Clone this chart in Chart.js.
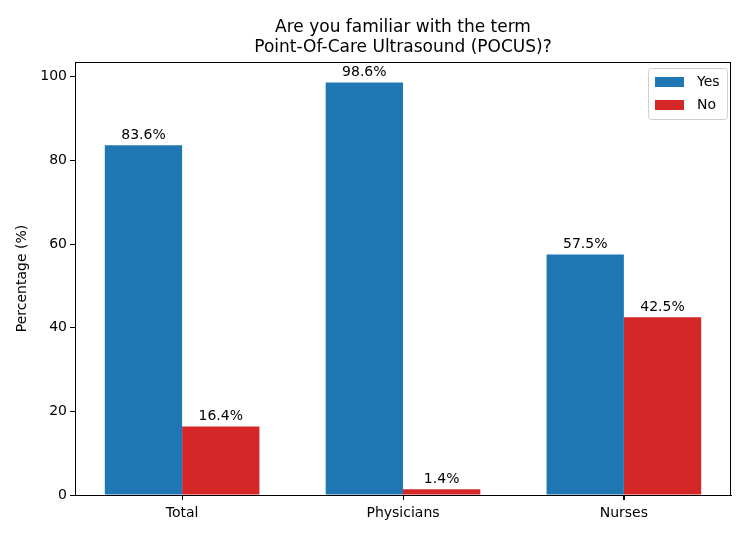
<!DOCTYPE html>
<html>
<head>
<meta charset="utf-8">
<script src="https://cdn.jsdelivr.net/npm/chart.js@4/dist/chart.umd.min.js"></script>
<style>
html,body{margin:0;padding:0;background:#fff;}
#wrap{width:750px;height:536px;}
</style>
</head>
<body>
<div id="wrap"><canvas id="c" width="750" height="536"></canvas></div>
<script>
const categories = ["Total", "Physicians", "Nurses"];
const yesValues = [83.6, 98.6, 57.5];
const noValues = [16.4, 1.4, 42.5];
const seriesNames = ["Yes", "No"];
const titleLines = ["Are you familiar with the term", "Point-Of-Care Ultrasound (POCUS)?"];
const yTicks = [0, 20, 40, 60, 80, 100];

const FONT = "DejaVu Sans";
const TICK_PX = 14;
const TITLE_PX = 17;
const BLUE = '#1f77b4', RED = '#d62728';

const framePlugin = {
  id: 'frame',
  afterDatasetsDraw(chart) {
    const {ctx, chartArea: a} = chart;
    ctx.save();
    ctx.font = TICK_PX + 'px "' + FONT + '"';
    ctx.fillStyle = '#000';
    ctx.textAlign = 'center';
    ctx.textBaseline = 'bottom';
    chart.data.datasets.forEach((ds, i) => {
      chart.getDatasetMeta(i).data.forEach((bar, j) => {
        ctx.fillText(ds.data[j].y.toFixed(1) + '%', bar.x, bar.y - 3);
      });
    });
    ctx.strokeStyle = '#000';
    ctx.lineWidth = 1;
    ctx.strokeRect(Math.round(a.left) + 0.5, Math.round(a.top) + 0.5, Math.round(a.right - a.left) - 1, Math.round(a.bottom - a.top));
    // x tick marks at category centres
    const xs = chart.scales.x;
    ctx.beginPath();
    categories.forEach((c, i) => {
      const px = Math.round(xs.getPixelForValue(i)) + 0.5;
      ctx.moveTo(px, Math.round(a.bottom));
      ctx.lineTo(px, Math.round(a.bottom) + 5);
    });
    ctx.stroke();
    ctx.font = TITLE_PX + 'px "' + FONT + '"';
    ctx.textBaseline = 'middle';
    const cx = (a.left + a.right) / 2;
    ctx.fillText(titleLines[0], cx, 28);
    ctx.fillText(titleLines[1], cx, 48);
    const lx = 648, ly = 68, lw = 79, lh = 51;
    ctx.fillStyle = 'rgba(255,255,255,0.8)';
    ctx.strokeStyle = '#d0d0d0';
    ctx.beginPath();
    if (ctx.roundRect) ctx.roundRect(lx + 0.5, ly + 0.5, lw, lh, 3); else ctx.rect(lx + 0.5, ly + 0.5, lw, lh);
    ctx.fill(); ctx.stroke();
    ctx.font = TICK_PX + 'px "' + FONT + '"';
    ctx.textAlign = 'left';
    [BLUE, RED].forEach((col, k) => {
      const yy = 82 + k * 23;
      ctx.fillStyle = col;
      ctx.fillRect(655, yy - 5, 29, 10);
      ctx.fillStyle = '#000';
      ctx.fillText(seriesNames[k], 697, yy);
    });
    ctx.restore();
  }
};

new Chart(document.getElementById('c'), {
  type: 'bar',
  data: {
    datasets: [
      { label: seriesNames[0], data: categories.map((c, i) => ({x: i, y: yesValues[i]})), backgroundColor: BLUE, borderWidth: 0, categoryPercentage: 0.7, barPercentage: 1.0 },
      { label: seriesNames[1], data: categories.map((c, i) => ({x: i, y: noValues[i]})), backgroundColor: RED, borderWidth: 0, categoryPercentage: 0.7, barPercentage: 1.0 }
    ]
  },
  options: {
    responsive: false,
    animation: false,
    devicePixelRatio: 1,
    layout: { padding: { top: 62, right: 19, left: 0, bottom: 0 } },
    plugins: { legend: { display: false }, title: { display: false }, tooltip: { enabled: false } },
    scales: {
      x: {
        type: 'linear',
        offset: false,
        min: -0.485, max: 2.485,
        afterBuildTicks(s) { s.ticks = categories.map((c, i) => ({value: i})); },
        ticks: { callback: (v) => categories[v] ?? '', color: '#000', font: { family: FONT, size: TICK_PX }, padding: 5, maxRotation: 0, autoSkip: false },
        grid: { offset: false, drawOnChartArea: false, drawTicks: true, tickLength: 5, tickColor: '#000' },
        border: { display: true, color: '#000', width: 1 },
        afterFit(s) { s.height = 41; }
      },
      y: {
        min: 0, max: 103.53,
        afterBuildTicks(s) { s.ticks = yTicks.map(v => ({value: v})); },
        ticks: { color: '#000', font: { family: FONT, size: TICK_PX }, padding: 3 },
        grid: { drawOnChartArea: false, drawTicks: true, tickLength: 5, tickColor: '#000' },
        border: { display: true, color: '#000', width: 1 },
        title: { display: true, text: 'Percentage (%)', color: '#000', font: { family: FONT, size: TICK_PX }, padding: { top: 14, bottom: 0 } },
        afterFit(s) { s.width = 75; }
      }
    }
  },
  plugins: [framePlugin]
});
</script>
</body>
</html>
